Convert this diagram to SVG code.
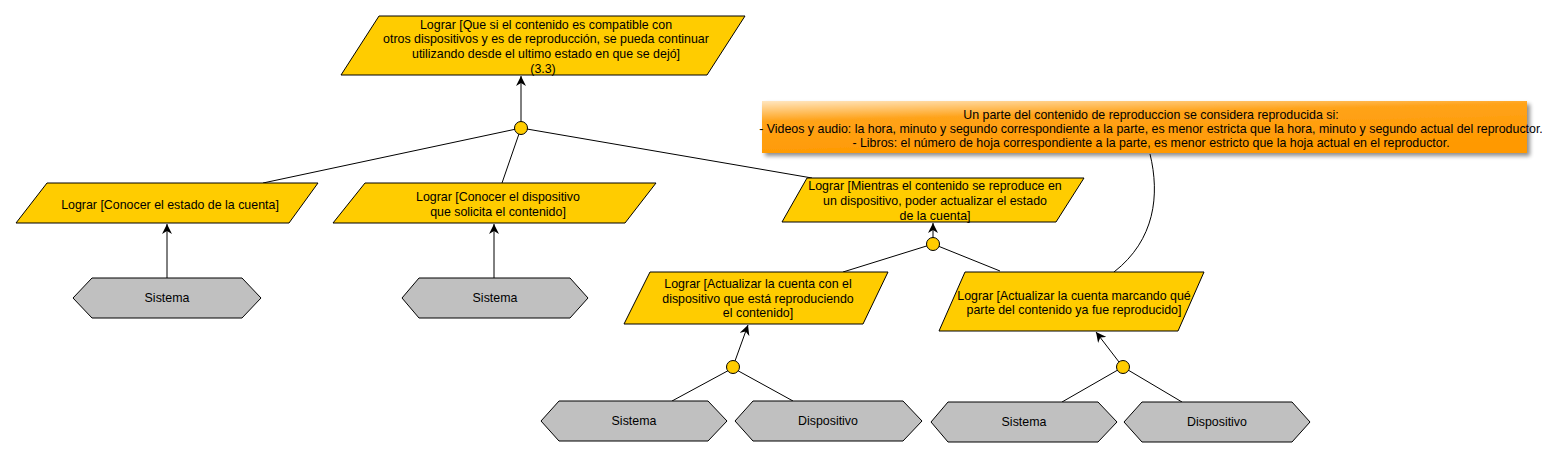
<svg xmlns="http://www.w3.org/2000/svg" width="1542" height="457" viewBox="0 0 1542 457">
<style>
.goal{fill:#FFCC00;stroke:#000;stroke-width:1}
.actor{fill:#C0C0C0;stroke:#000;stroke-width:1}
.dot{fill:#FFCC00;stroke:#000;stroke-width:1}
.t{font-family:"Liberation Sans",Arial,sans-serif;font-size:12.4px;fill:#000;text-anchor:middle}
.ln{stroke:#000;stroke-width:1;fill:none}
.arr{stroke:#000;stroke-width:1;fill:none;marker-end:url(#ah)}
</style>
<defs>
<marker id="ah" viewBox="0 0 10 10" refX="10" refY="5" markerWidth="10" markerHeight="10" markerUnits="userSpaceOnUse" orient="auto">
<path d="M0,0 L10,5 L0,10 L3,5 Z" fill="#000"/>
</marker>
<linearGradient id="ng" x1="0" y1="0" x2="0.35" y2="1">
<stop offset="0" stop-color="#FFE6C0"/>
<stop offset="0.35" stop-color="#FFA31A"/>
<stop offset="1" stop-color="#FF9900"/>
</linearGradient>
<filter id="sh" x="-5%" y="-30%" width="110%" height="170%">
<feGaussianBlur in="SourceAlpha" stdDeviation="2"/>
<feOffset dx="3" dy="3" result="b"/>
<feComponentTransfer><feFuncA type="linear" slope="0.45"/></feComponentTransfer>
<feMerge><feMergeNode/><feMergeNode in="SourceGraphic"/></feMerge>
</filter>
</defs>

<g id="connectors">
<line class="arr" x1="521" y1="121" x2="521" y2="76"/>
<line class="ln" x1="521" y1="128" x2="263" y2="183"/>
<line class="ln" x1="521" y1="128" x2="502" y2="183"/>
<line class="ln" x1="521" y1="128" x2="812" y2="178"/>
<line class="arr" x1="167" y1="278" x2="167" y2="224"/>
<line class="arr" x1="494" y1="278" x2="494" y2="224"/>
<line class="arr" x1="933" y1="238" x2="933" y2="223"/>
<line class="ln" x1="933" y1="244" x2="843" y2="272"/>
<line class="ln" x1="933" y1="244" x2="1000" y2="271"/>
<line class="arr" x1="735" y1="361" x2="748" y2="325"/>
<line class="ln" x1="733" y1="368" x2="672" y2="401"/>
<line class="ln" x1="733" y1="368" x2="793" y2="401"/>
<line class="arr" x1="1119" y1="362" x2="1096" y2="332"/>
<line class="ln" x1="1123" y1="367" x2="1062" y2="402"/>
<line class="ln" x1="1123" y1="367" x2="1182" y2="402"/>
<path class="ln" d="M1150,154 C1160,195 1155,240 1114,272"/>
</g>

<g id="and1"><circle class="dot" cx="521" cy="128" r="6.5"/></g>
<g id="and2"><circle class="dot" cx="933" cy="244" r="6.5"/></g>
<g id="and3"><circle class="dot" cx="733" cy="367" r="6.5"/></g>
<g id="and4"><circle class="dot" cx="1123" cy="367" r="6.5"/></g>

<g id="goal-main">
<polygon class="goal" points="379,16 745,16 707,75 341,75"/>
<text class="t" x="546" y="29">Lograr [Que si el contenido es compatible con</text>
<text class="t" x="546" y="43">otros dispositivos y es de reproducción, se pueda continuar</text>
<text class="t" x="546" y="58">utilizando desde el ultimo estado en que se dejó]</text>
<text class="t" x="543" y="73">(3.3)</text>
</g>

<g id="goal-estado">
<polygon class="goal" points="47,183 318,183 289,223 16,223"/>
<text class="t" x="170" y="209">Lograr [Conocer el estado de la cuenta]</text>
</g>

<g id="goal-dispositivo">
<polygon class="goal" points="365,183 656,183 625,223 333,223"/>
<text class="t" x="498" y="201">Lograr [Conocer el dispositivo</text>
<text class="t" x="498" y="216">que solicita el contenido]</text>
</g>

<g id="goal-mientras">
<polygon class="goal" points="807,178 1084,178 1056,222 782,222"/>
<text class="t" x="935" y="190">Lograr [Mientras el contenido se reproduce en</text>
<text class="t" x="935" y="205">un dispositivo, poder actualizar el estado</text>
<text class="t" x="935" y="220">de la cuenta]</text>
</g>

<g id="goal-actualizar-disp">
<polygon class="goal" points="650,272 888,272 863,324 624,324"/>
<text class="t" x="758" y="288">Lograr [Actualizar la cuenta con el</text>
<text class="t" x="758" y="303">dispositivo que está reproduciendo</text>
<text class="t" x="758" y="317">el contenido]</text>
</g>

<g id="goal-actualizar-parte">
<polygon class="goal" points="965,272 1204,272 1178,331 939,331"/>
<text class="t" x="1074" y="300">Lograr [Actualizar la cuenta marcando qué</text>
<text class="t" x="1074" y="314">parte del contenido ya fue reproducido]</text>
</g>

<g id="note">
<rect x="762" y="101" width="765" height="52" fill="url(#ng)" filter="url(#sh)"/>
<text class="t" x="1151" y="119">Un parte del contenido de reproduccion se considera reproducida si:</text>
<text class="t" x="1151" y="133">- Videos y audio: la hora, minuto y segundo correspondiente a la parte, es menor estricta que la hora, minuto y segundo actual del reproductor.</text>
<text class="t" x="1151" y="147">- Libros: el número de hoja correspondiente a la parte, es menor estricto que la hoja actual en el reproductor.</text>
</g>

<g id="actor-sistema-1">
<polygon class="actor" points="73,298 92,278 242,278 261,298 242,318 92,318"/>
<text class="t" x="167" y="302">Sistema</text>
</g>
<g id="actor-sistema-2">
<polygon class="actor" points="402,298 419,278 570,278 588,298 570,318 419,318"/>
<text class="t" x="495" y="302">Sistema</text>
</g>
<g id="actor-sistema-3">
<polygon class="actor" points="541,421 559,401 708,401 727,421 708,441 559,441"/>
<text class="t" x="634" y="425">Sistema</text>
</g>
<g id="actor-dispositivo-1">
<polygon class="actor" points="735,421 753,401 903,401 922,421 903,441 753,441"/>
<text class="t" x="828" y="425">Dispositivo</text>
</g>
<g id="actor-sistema-4">
<polygon class="actor" points="931,422 948,402 1098,402 1117,422 1098,442 948,442"/>
<text class="t" x="1024" y="426">Sistema</text>
</g>
<g id="actor-dispositivo-2">
<polygon class="actor" points="1124,422 1142,402 1292,402 1310,422 1292,442 1142,442"/>
<text class="t" x="1217" y="426">Dispositivo</text>
</g>
</svg>
